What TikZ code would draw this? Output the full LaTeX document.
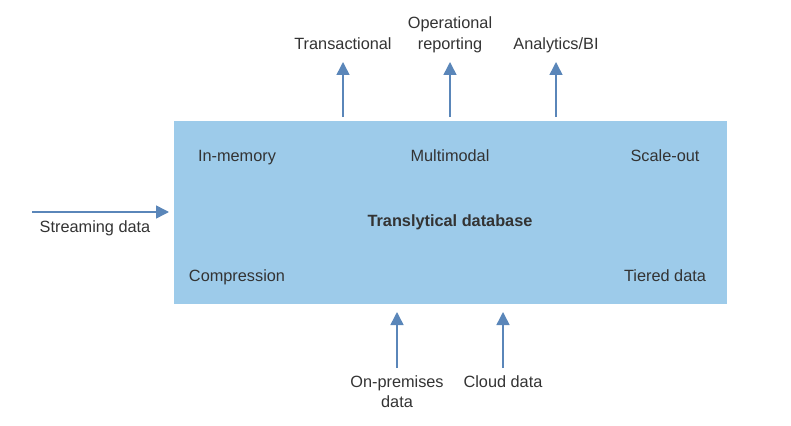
\documentclass[tikz,border=0pt]{standalone}
\usepackage{fontspec}
\setmainfont{Liberation Sans}
\usetikzlibrary{arrows.meta}
\definecolor{dbblue}{HTML}{9DCBEA}
\definecolor{flowblue}{HTML}{5A86B9}
\definecolor{txtgray}{HTML}{333333}
\tikzset{
  flow/.style={draw=flowblue, line width=1.5pt, -{Triangle[length=13pt,width=13pt]}},
  lbl/.style={text=txtgray, font=\fontsize{16.3}{21}\selectfont, align=center,
    inner sep=0pt, anchor=base}
}
\begin{document}
\begin{tikzpicture}[x=1pt,y=-1pt]
	\useasboundingbox (0,0) rectangle (791,425);

	% the database block
	\fill [dbblue] (174,121) rectangle (727,304);
	\node [lbl] (inmem) at (237,161) {In-memory};
	\node [lbl] (multi) at (450,161) {Multimodal};
	\node [lbl] (scale) at (665,161) {Scale-out};
	\node [lbl, font=\fontsize{16.3}{21}\selectfont\bfseries] (db) at (450,226) {Translytical database};
	\node [lbl] (compr) at (237,281) {Compression};
	\node [lbl] (tier) at (665,281) {Tiered data};

	% outputs
	\node [lbl] (trans) at (343,50) {Transactional};
	\node [lbl, font=\fontsize{16.3}{21.5}\selectfont] (oper) at (450,50) {Operational\\reporting};
	\node [lbl] (anal) at (556,50) {Analytics/BI};
	\coordinate (trans-in) at (343,117);
	\coordinate (oper-in) at (450,117);
	\coordinate (anal-in) at (556,117);
	\coordinate (trans-out) at (343,62);
	\coordinate (oper-out) at (450,62);
	\coordinate (anal-out) at (556,62);
	\draw [flow] (trans-in) -- (trans-out);
	\draw [flow] (oper-in) -- (oper-out);
	\draw [flow] (anal-in) -- (anal-out);

	% inputs
	\node [lbl] (stream) at (95,232) {Streaming data};
	\coordinate (stream-from) at (32,212);
	\coordinate (stream-to) at (169,212);
	\draw [flow] (stream-from) -- (stream-to);

	\node [lbl, font=\fontsize{16.3}{20}\selectfont] (prem) at (397,407) {On-premises\\data};
	\node [lbl] (cloud) at (503,387) {Cloud data};
	\coordinate (prem-from) at (397,368);
	\coordinate (cloud-from) at (503,368);
	\coordinate (prem-to) at (397,312);
	\coordinate (cloud-to) at (503,312);
	\draw [flow] (prem-from) -- (prem-to);
	\draw [flow] (cloud-from) -- (cloud-to);
\end{tikzpicture}
\end{document}
